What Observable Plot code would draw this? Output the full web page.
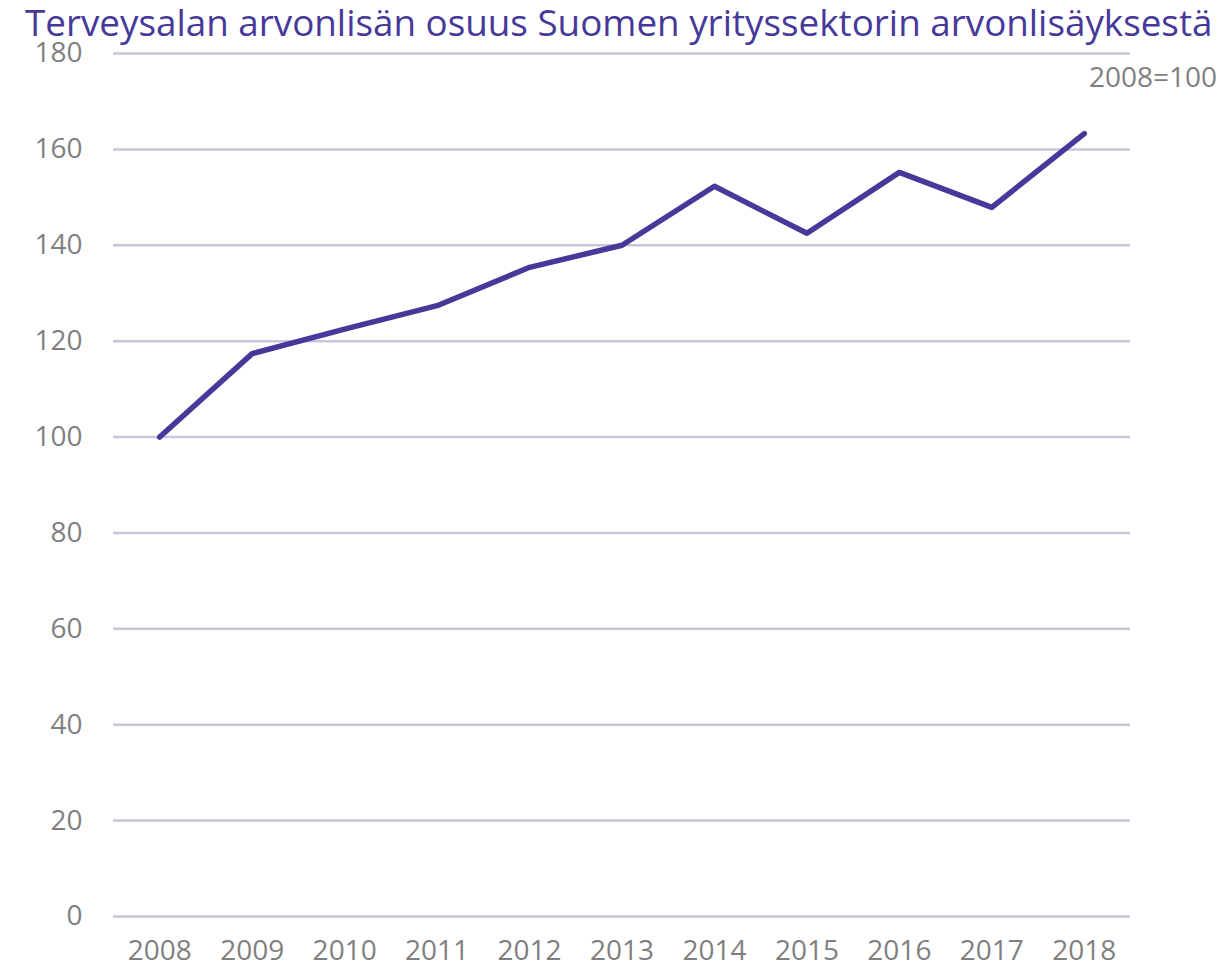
<!DOCTYPE html>
<html>
<head>
<meta charset="utf-8">
<script src="https://cdn.jsdelivr.net/npm/d3@7"></script>
<script src="https://cdn.jsdelivr.net/npm/@observablehq/plot@0.6"></script>
<style>
  body { margin: 0; background: #fff; font-family: "Open Sans", sans-serif; }
  #wrap { position: relative; width: 1231px; height: 972px; }
  #chart { position: absolute; left: 0; top: 38px; z-index: 1; }
  #title { position: absolute; left: 25px; top: 4px; line-height: 1; font-size: 35px; color: #46399a; white-space: nowrap; z-index: 2; }
  #note { position: absolute; right: 14px; top: 62px; line-height: 1; font-size: 28px; color: #7f7f7f; z-index: 2; }
</style>
</head>
<body>
<div id="wrap">
  <div id="chart"></div>
  <div id="title">Terveysalan arvonlisän osuus Suomen yrityssektorin arvonlisäyksestä</div>
  <div id="note">2008=100</div>
</div>
<script>
const years = [2008, 2009, 2010, 2011, 2012, 2013, 2014, 2015, 2016, 2017, 2018];
const values = [100, 117.4, 122.5, 127.4, 135.4, 140.0, 152.3, 142.5, 155.2, 147.9, 163.3];
const yTicks = [0, 20, 40, 60, 80, 100, 120, 140, 160, 180];

const data = years.map((y, i) => ({year: y, value: values[i]}));

const chart = Plot.plot({
  width: 1231,
  height: 934,
  marginTop: 15,
  marginBottom: 56,
  marginLeft: 113,
  marginRight: 101,
  style: {fontFamily: "'Open Sans', sans-serif", fontSize: "28px", color: "#7f7f7f", background: "transparent", overflow: "visible"},
  x: {domain: [2007.5, 2018.5], ticks: years, tickFormat: d => String(d), label: null},
  y: {domain: [0, 180], ticks: yTicks, label: null},
  marks: [
    Plot.ruleY(yTicks, {stroke: "#c9c5dd", strokeWidth: 2.5}),
    Plot.axisX({ticks: years, tickFormat: d => String(d), tickSize: 0, tickPadding: 24, fill: "#7f7f7f", label: null}),
    Plot.axisY({ticks: yTicks, tickSize: 0, tickPadding: 31, fill: "#7f7f7f", label: null}),
    Plot.line(data, {x: "year", y: "value", stroke: "#46399a", strokeWidth: 5.5, strokeLinejoin: "round", strokeLinecap: "round"})
  ]
});
document.getElementById("chart").appendChild(chart);

// fit title width to reference span
const t = document.getElementById("title");
const w = t.getBoundingClientRect().width;
const target = 1188;
if (w > 0) t.style.fontSize = (35 * target / w).toFixed(2) + "px";
</script>
</body>
</html>
